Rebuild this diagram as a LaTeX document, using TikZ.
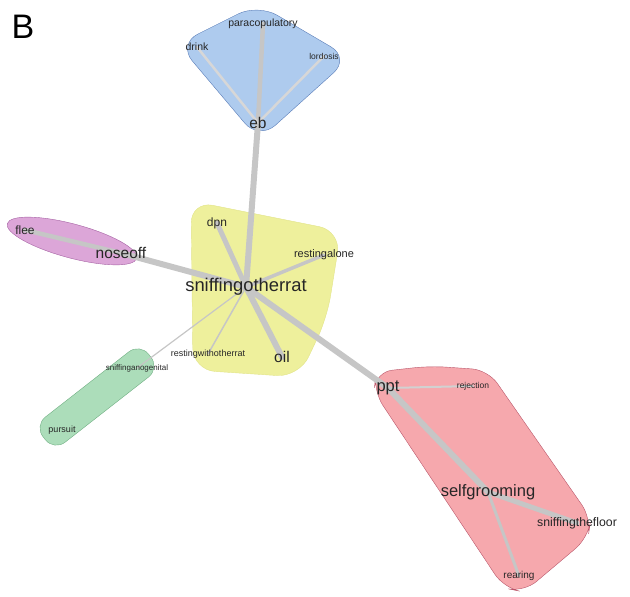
\documentclass[tikz,border=0pt]{standalone}
\usepackage{fontspec}
\setmainfont{Liberation Sans}
\usepackage{tikz}
\usetikzlibrary{backgrounds}
\definecolor{edgec}{HTML}{C6C6C6}
\definecolor{bluef}{HTML}{AECBEE}
\definecolor{blued}{HTML}{5A7DB8}
\definecolor{yellf}{HTML}{EEF09C}
\definecolor{yelld}{HTML}{E2E48A}
\definecolor{purpf}{HTML}{DCA6D8}
\definecolor{purpd}{HTML}{A562A3}
\definecolor{greef}{HTML}{ACDDBA}
\definecolor{greed}{HTML}{6FAE82}
\definecolor{redf}{HTML}{F6A8AD}
\definecolor{redd}{HTML}{B9566A}

\begin{document}
\begin{tikzpicture}[x=1pt, y=-1pt,
  lbl/.style={inner sep=0pt, text=black!85},
  hubf/.style={lbl, font=\fontsize{18.4}{20}\selectfont},
  midf/.style={lbl, font=\fontsize{15.5}{17}\selectfont},
  smlf/.style={lbl, font=\fontsize{10.5}{12}\selectfont},
  tinyf/.style={lbl, font=\fontsize{8.5}{10}\selectfont},
  edge/.style={draw=edgec, line cap=round}]
  \useasboundingbox (0,0) rectangle (630,597);
  \node[font=\fontsize{34}{36}\selectfont] at (23,27) {B};
  % vertices
  \node[hubf] (sniff) at (246,287) {sniffingotherrat};
  \node[midf] (eb) at (258,123) {eb};
  \node[smlf] (para) at (263,24) {paracopulatory};
  \node[smlf] (drink) at (197,47) {drink};
  \node[tinyf] (lord) at (324,56) {lordosis};
  \node[midf] (nose) at (121,253) {noseoff};
  \node[smlf, font=\fontsize{12}{14}\selectfont] (flee) at (25,230) {flee};
  \node[smlf, font=\fontsize{12}{14}\selectfont] (dpn) at (217,223) {dpn};
  \node[smlf, font=\fontsize{11}{13}\selectfont] (ralone) at (324,255) {restingalone};
  \node[midf] (oil) at (282,357) {oil};
  \node[tinyf, font=\fontsize{9}{11}\selectfont] (rwith) at (208,354) {restingwithotherrat};
  \node[tinyf, font=\fontsize{8}{10}\selectfont] (anogen) at (137,368) {sniffinganogenital};
  \node[tinyf, font=\fontsize{9}{11}\selectfont] (pursuit) at (62,430) {pursuit};
  \node[midf, font=\fontsize{16.5}{18}\selectfont] (ppt) at (388,388) {ppt};
  \node[tinyf] (reject) at (473,386) {rejection};
  \node[midf, font=\fontsize{16.5}{18}\selectfont] (selfg) at (488,492) {selfgrooming};
  \node[smlf, font=\fontsize{12.3}{14}\selectfont] (floor) at (577,523) {sniffingthefloor};
  \node[smlf, font=\fontsize{10}{12}\selectfont] (rear) at (519,576) {rearing};
  \begin{scope}[on background layer]
    % groups
    \draw[blued, fill=bluef, rounded corners=22pt]
      (178,44) -- (258,4) -- (350,58) -- (259,140) -- cycle;
    \draw[yelld, fill=yellf, rounded corners=22pt]
      (191,201) -- (341,231) -- (327,318) -- (299,377) -- (193,370) -- cycle;
    \draw[purpd, fill=purpf, rotate around={-15:(72,241)}]
      (72,241) ellipse [x radius=67pt, y radius=17pt];
    \draw[greed, fill=greef, rounded corners=14pt, rotate around={38:(97,397)}]
      (30,381) rectangle (164,413);
    \draw[redd, fill=redf, rounded corners=16pt]
      (376,372) -- (430,366) -- (488,370) -- (591,518) -- (588,538) -- (524,592)
      -- (504,588) -- (374,392) -- cycle;
    % links
    \draw[edge, line width=6pt] (sniff.center) -- (eb.center);
    \draw[edge, line width=4.5pt] (eb.center) -- (para.center);
    \draw[edge, draw=edgec!70, line width=2.5pt] (eb.center) -- (drink.center);
    \draw[edge, draw=edgec!70, line width=2.5pt] (eb.center) -- (lord.center);
    \draw[edge, line width=6pt] (sniff.center) -- (nose.center);
    \draw[edge, line width=4.5pt] (nose.center) -- (flee.center);
    \draw[edge, line width=5pt] (sniff.center) -- (dpn.center);
    \draw[edge, line width=3.5pt] (sniff.center) -- (ralone.center);
    \draw[edge, line width=6pt] (sniff.center) -- (oil.center);
    \draw[edge, line width=1.5pt] (sniff.center) -- (rwith.center);
    \draw[edge, line width=1.2pt] (sniff.center) -- (anogen.center);
    \draw[edge, line width=6pt] (sniff.center) -- (ppt.center);
    \draw[edge, draw=edgec!80, line width=2pt] (ppt.center) -- (reject.center);
    \draw[edge, line width=6pt] (ppt.center) -- (selfg.center);
    \draw[edge, line width=5pt] (selfg.center) -- (floor.center);
    \draw[edge, line width=3pt] (selfg.center) -- (rear.center);
  \end{scope}
\end{tikzpicture}
\end{document}
